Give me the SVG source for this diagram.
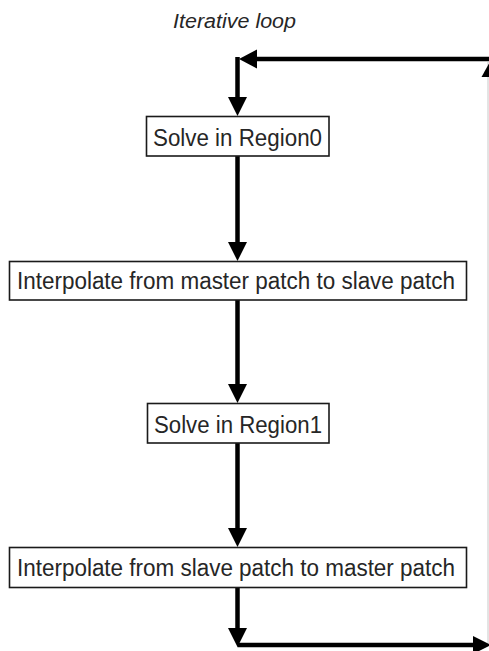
<svg xmlns="http://www.w3.org/2000/svg" width="489" height="651" viewBox="0 0 489 651">
<style>
.box{fill:#fff;stroke:#1a1a1a;stroke-width:1.6}
.lbl{font-family:"Liberation Sans",Arial,sans-serif;font-size:23px;fill:#262626}
.title{font-family:"Liberation Sans",Arial,sans-serif;font-size:20px;font-style:italic;fill:#262626}
.conn{fill:none;stroke:#000;stroke-width:4.5}
.head{fill:#000}
</style>
<rect width="489" height="651" fill="#fff"/>
<text class="title" x="173" y="28" textLength="123" lengthAdjust="spacingAndGlyphs">Iterative loop</text>
<g id="connectors">
<line x1="488" y1="62" x2="488" y2="645" stroke="#c8c8c8" stroke-width="1"/>
<path class="conn" d="M489 59 H255"/>
<polygon class="head" points="239,59 257,49.5 257,68.5"/>
<path class="conn" d="M237.5 57 V99"/>
<polygon class="head" points="237.5,116 228,97 247,97"/>
<polygon class="head" points="491,60 481.5,77 500.5,77"/>
<path class="conn" d="M237.5 156 V244"/>
<polygon class="head" points="237.5,261 228,242 247,242"/>
<path class="conn" d="M237.5 300 V386"/>
<polygon class="head" points="237.5,403 228,384 247,384"/>
<path class="conn" d="M237.5 443 V530"/>
<polygon class="head" points="237.5,547 228,528 247,528"/>
<path class="conn" d="M237.5 588 V630"/>
<polygon class="head" points="237.5,647 228,628 247,628"/>
<path class="conn" d="M237.5 645 H476"/>
<polygon class="head" points="491,645 473,636 473,654"/>
</g>
<g id="n1">
<rect class="box" x="146.5" y="116.5" width="182.5" height="39.5"/>
<text class="lbl" x="153" y="146" textLength="169" lengthAdjust="spacingAndGlyphs">Solve in Region0</text>
</g>
<g id="n2">
<rect class="box" x="9.5" y="261.5" width="457" height="38.5"/>
<text class="lbl" x="17" y="288.5" textLength="438" lengthAdjust="spacingAndGlyphs">Interpolate from master patch to slave patch</text>
</g>
<g id="n3">
<rect class="box" x="147.5" y="403.5" width="181.5" height="39.5"/>
<text class="lbl" x="154" y="432.5" textLength="168" lengthAdjust="spacingAndGlyphs">Solve in Region1</text>
</g>
<g id="n4">
<rect class="box" x="9.5" y="547.5" width="457" height="40"/>
<text class="lbl" x="17" y="575.5" textLength="438" lengthAdjust="spacingAndGlyphs">Interpolate from slave patch to master patch</text>
</g>
</svg>
